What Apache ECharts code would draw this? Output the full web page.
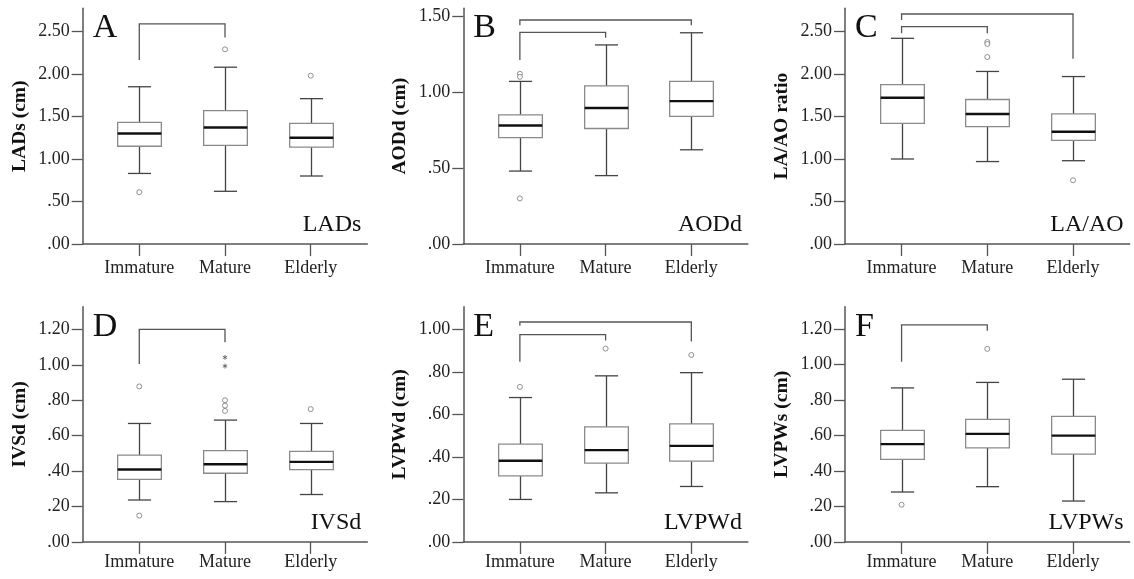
<!DOCTYPE html>
<html>
<head>
<meta charset="utf-8">
<title>Echo boxplots</title>
<script src="https://cdn.jsdelivr.net/npm/echarts@6/dist/echarts.min.js"></script>
<style>
  html, body { margin: 0; padding: 0; background: #fff; }
  #main { width: 1134px; height: 579px; }
</style>
</head>
<body>
<div id="main"></div>
<script>
var groups = ['Immature', 'Mature', 'Elderly'];

// [low whisker, Q1, median, Q3, high whisker] per group
var boxLADs  = [[0.83, 1.15, 1.30, 1.43, 1.85], [0.62, 1.16, 1.37, 1.57, 2.08], [0.80, 1.14, 1.25, 1.42, 1.71]];
var boxAODd  = [[0.48, 0.70, 0.78, 0.85, 1.07], [0.45, 0.76, 0.895, 1.04, 1.31], [0.62, 0.84, 0.94, 1.07, 1.39]];
var boxLAAO  = [[1.00, 1.42, 1.72, 1.875, 2.42], [0.97, 1.38, 1.53, 1.70, 2.03], [0.98, 1.22, 1.32, 1.53, 1.97]];
var boxIVSd  = [[0.237, 0.354, 0.409, 0.49, 0.669], [0.228, 0.388, 0.439, 0.516, 0.688], [0.268, 0.409, 0.452, 0.512, 0.669]];
var boxLVPWd = [[0.20, 0.311, 0.382, 0.46, 0.679], [0.231, 0.371, 0.432, 0.541, 0.781], [0.261, 0.38, 0.452, 0.555, 0.796]];
var boxLVPWs = [[0.282, 0.466, 0.552, 0.629, 0.869], [0.312, 0.531, 0.61, 0.691, 0.90], [0.231, 0.496, 0.60, 0.708, 0.918]];

// outliers [group, value]
var outLADs  = [[0, 0.61], [1, 2.29], [2, 1.98]];
var outAODd  = [[0, 1.12], [0, 1.10], [0, 0.30]];
var outLAAO  = [[1, 2.376], [1, 2.353], [1, 2.20], [2, 0.75]];
var outIVSd  = [[0, 0.878], [0, 0.149], [1, 0.80], [1, 0.77], [1, 0.74], [2, 0.75]];
var outLVPWd = [[0, 0.729], [1, 0.909], [2, 0.879]];
var outLVPWs = [[0, 0.21], [1, 1.089]];
// extremes (asterisks)
var extIVSd  = [[1, 1.042], [1, 0.993]];

// significance brackets [from, to, top, left end, right end]
var brLADs  = [[0, 1, 2.59, 2.165, 2.43]];
var brAODd  = [[0, 2, 1.474, 1.44, 1.44], [0, 1, 1.393, 1.21, 1.357]];
var brLAAO  = [[0, 2, 2.706, 2.635, 2.18], [0, 1, 2.557, 2.48, 2.48]];
var brIVSd  = [[0, 1, 1.20, 1.004, 1.127]];
var brLVPWd = [[0, 2, 1.034, 1.016, 0.942], [0, 1, 0.975, 0.847, 0.947]];
var brLVPWs = [[0, 1, 1.224, 1.017, 1.192]];

var ticksA = [0, 0.5, 1.0, 1.5, 2.0, 2.5];
var ticksB = [0, 0.5, 1.0, 1.5];
var ticksD = [0, 0.2, 0.4, 0.6, 0.8, 1.0, 1.2];
var ticksE = [0, 0.2, 0.4, 0.6, 0.8, 1.0];

var panels = [
  { letter: 'A', tag: 'LADs',  yName: 'LADs (cm)',     max: 2.773, ticks: ticksA, box: boxLADs,  out: outLADs,  br: brLADs,  ext: [] },
  { letter: 'B', tag: 'AODd',  yName: 'AODd (cm)',     max: 1.551, ticks: ticksB, box: boxAODd,  out: outAODd,  br: brAODd,  ext: [] },
  { letter: 'C', tag: 'LA/AO', yName: 'LA/AO ratio',   max: 2.773, ticks: ticksA, box: boxLAAO,  out: outLAAO,  br: brLAAO,  ext: [] },
  { letter: 'D', tag: 'IVSd',  yName: 'IVSd (cm)',     max: 1.328, ticks: ticksD, box: boxIVSd,  out: outIVSd,  br: brIVSd,  ext: extIVSd },
  { letter: 'E', tag: 'LVPWd', yName: 'LVPWd (cm)',    max: 1.106, ticks: ticksE, box: boxLVPWd, out: outLVPWd, br: brLVPWd, ext: [] },
  { letter: 'F', tag: 'LVPWs', yName: 'LVPWs (cm)',    max: 1.327, ticks: ticksD, box: boxLVPWs, out: outLVPWs, br: brLVPWs, ext: [] }
];

var colX = [82.7, 463.3, 845];
var rowTop = [8.3, 306.7];
var rowBottom = [244, 542];
var plotW = 284.6;

var serif = 'Liberation Serif';
var axisColor = '#555';

function fmtTick(v) {
  var s = v.toFixed(2);
  return v < 1 ? s.slice(1) : s;
}

function renderBox(params, api) {
  var x = api.value(0);
  var lo = api.coord([x, api.value(1)]);
  var q1 = api.coord([x, api.value(2)]);
  var md = api.coord([x, api.value(3)]);
  var q3 = api.coord([x, api.value(4)]);
  var hi = api.coord([x, api.value(5)]);
  var band = api.size([1, 0])[0];
  var hw = band * 0.255, cw = band * 0.135;
  var cx = Math.round(lo[0]) + 0.5;
  var wsk = { stroke: '#444', lineWidth: 1.3 };
  return {
    type: 'group',
    children: [
      { type: 'line', shape: { x1: cx, y1: hi[1], x2: cx, y2: q3[1] }, style: wsk },
      { type: 'line', shape: { x1: cx, y1: q1[1], x2: cx, y2: lo[1] }, style: wsk },
      { type: 'line', shape: { x1: cx - cw, y1: hi[1], x2: cx + cw, y2: hi[1] }, style: wsk },
      { type: 'line', shape: { x1: cx - cw, y1: lo[1], x2: cx + cw, y2: lo[1] }, style: wsk },
      { type: 'rect', shape: { x: cx - hw, y: q3[1], width: 2 * hw, height: q1[1] - q3[1] },
        style: { fill: '#fff', stroke: '#8a8a8a', lineWidth: 1.3 } },
      { type: 'line', shape: { x1: cx - hw, y1: md[1], x2: cx + hw, y2: md[1] },
        style: { stroke: '#111', lineWidth: 2.4 } }
    ]
  };
}

function renderBracket(params, api) {
  var a = api.value(0), b = api.value(1);
  var p1 = api.coord([a, api.value(3)]);
  var p2 = api.coord([a, api.value(2)]);
  var p3 = api.coord([b, api.value(2)]);
  var p4 = api.coord([b, api.value(4)]);
  return {
    type: 'polyline',
    shape: { points: [p1, p2, p3, p4] },
    style: { stroke: '#555', lineWidth: 1.3, fill: null }
  };
}

var grids = [], xAxes = [], yAxes = [], series = [], graphics = [];

panels.forEach(function (p, i) {
  var col = i % 3, row = Math.floor(i / 3);
  var left = colX[col], top = rowTop[row], bottom = rowBottom[row];
  grids.push({ left: left, top: top, width: plotW, height: bottom - top });

  xAxes.push({
    type: 'value', gridIndex: i, min: -0.66, max: 2.66,
    axisLine: { show: true, onZero: false, lineStyle: { color: axisColor, width: 1.5 } },
    axisTick: { show: true, customValues: [0, 1, 2], length: 12, lineStyle: { color: axisColor, width: 1.3 } },
    axisLabel: {
      customValues: [0, 1, 2], formatter: function (v) { return groups[Math.round(v)]; },
      fontFamily: serif, fontSize: 18, color: '#222', margin: row === 0 ? 15 : 11
    },
    splitLine: { show: false }
  });

  yAxes.push({
    type: 'value', gridIndex: i, min: 0, max: p.max,
    name: p.yName, nameLocation: 'middle', nameGap: 53,
    nameTextStyle: { fontFamily: serif, fontWeight: 'bold', fontSize: 19.5, color: '#111' },
    axisLine: { show: true, onZero: false, lineStyle: { color: axisColor, width: 1.5 } },
    axisTick: { show: true, customValues: p.ticks, length: 11, lineStyle: { color: axisColor, width: 1.3 } },
    axisLabel: { customValues: p.ticks, formatter: fmtTick, fontFamily: serif, fontSize: 18, color: '#222', margin: 13 },
    splitLine: { show: false }
  });

  series.push({
    type: 'custom', xAxisIndex: i, yAxisIndex: i,
    renderItem: renderBox,
    encode: { x: 0, y: [1, 2, 3, 4, 5] },
    data: p.box.map(function (b, g) { return [g].concat(b); }),
    silent: true
  });
  series.push({
    type: 'scatter', xAxisIndex: i, yAxisIndex: i,
    symbol: 'circle', symbolSize: 5,
    itemStyle: { color: '#fff', borderColor: '#777', borderWidth: 1 },
    data: p.out, silent: true
  });
  if (p.ext.length) {
    series.push({
      type: 'scatter', xAxisIndex: i, yAxisIndex: i,
      symbol: 'path://M0,-1L0,1M-0.87,-0.5L0.87,0.5M-0.87,0.5L0.87,-0.5',
      symbolSize: 5, symbolKeepAspect: true,
      itemStyle: { color: 'none', borderColor: '#555', borderWidth: 1 },
      data: p.ext, silent: true
    });
  }
  series.push({
    type: 'custom', xAxisIndex: i, yAxisIndex: i,
    renderItem: renderBracket,
    encode: { x: [0, 1], y: [2, 3, 4] },
    data: p.br, silent: true
  });

  graphics.push({
    type: 'text', left: left + 10, top: top + 3,
    style: { text: p.letter, font: '34px "Liberation Serif"', fill: '#111' }
  });
  graphics.push({
    type: 'text', right: 1134 - (left + plotW - 6), top: bottom - 31,
    style: { text: p.tag, font: '24px "Liberation Serif"', fill: '#111' }
  });
});

var chart = echarts.init(document.getElementById('main'), null, { renderer: 'canvas' });
chart.setOption({
  animation: false,
  backgroundColor: '#fff',
  grid: grids,
  xAxis: xAxes,
  yAxis: yAxes,
  series: series,
  graphic: graphics
});
</script>
</body>
</html>
